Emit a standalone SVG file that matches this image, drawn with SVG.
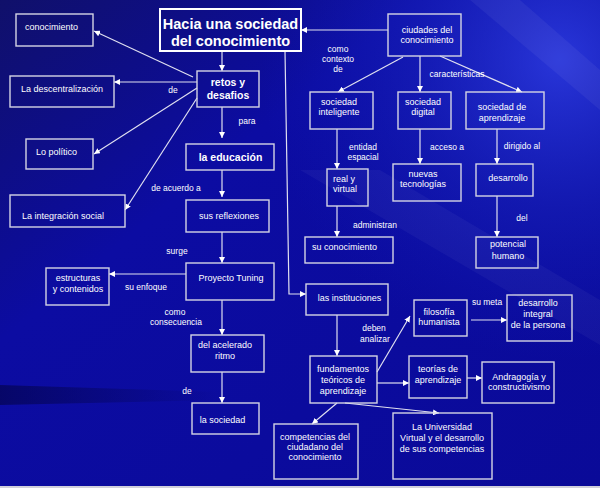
<svg xmlns="http://www.w3.org/2000/svg" width="600" height="488" viewBox="0 0 600 488">
<defs>
<linearGradient id="bg" x1="0" y1="0" x2="1" y2="1">
<stop offset="0" stop-color="#10106a"/>
<stop offset="0.35" stop-color="#0c0ca2"/>
<stop offset="1" stop-color="#0a0a98"/>
</linearGradient>
<radialGradient id="glow" cx="560" cy="60" r="300" gradientUnits="userSpaceOnUse">
<stop offset="0" stop-color="#3040e8" stop-opacity="0.8"/>
<stop offset="0.5" stop-color="#2030d0" stop-opacity="0.35"/>
<stop offset="1" stop-color="#1020c0" stop-opacity="0"/>
</radialGradient>
<linearGradient id="dark" x1="0" y1="0" x2="1" y2="0">
<stop offset="0" stop-color="#040450" stop-opacity="0.7"/>
<stop offset="1" stop-color="#040450" stop-opacity="0"/>
</linearGradient>
<marker id="ah" markerUnits="userSpaceOnUse" markerWidth="6" markerHeight="6" refX="6" refY="3" orient="auto">
<path d="M0,0 L6,3 L0,6 z" fill="#ffffff"/>
</marker>
<style>
.bx{fill:none;stroke:#d4d4e4;stroke-width:1.4}
.tt{stroke:#ffffff;stroke-width:2}
text{font-family:"Liberation Sans",Arial,sans-serif;fill:#ffffff;font-size:9px}
.c{text-anchor:middle}
.b{font-weight:bold;font-size:10.5px}
.h{font-weight:bold;font-size:14.5px}
.l{font-size:8.5px}
.cn{fill:none;stroke:#e0e0f0;stroke-width:1.2;marker-end:url(#ah)}
</style>
</defs>
<rect x="0" y="0" width="600" height="488" fill="url(#bg)"/>
<rect x="0" y="0" width="600" height="488" fill="url(#glow)"/>
<polygon points="470,0 520,0 600,70 600,110" fill="#ffffff" opacity="0.05"/>
<polygon points="300,170 380,170 600,300 600,345" fill="#ffffff" opacity="0.04"/>
<polygon points="0,385 220,392 220,400 0,405" fill="url(#dark)"/>
<rect x="0" y="486" width="600" height="2" fill="#d0d0dc"/>

<g id="connectors">
<path class="cn" d="M388,30 L301,30"/>
<path class="cn" d="M222,51 L222,71"/>
<path class="cn" d="M193,77 L94,31"/>
<path class="cn" d="M197,82 L114,82"/>
<path class="cn" d="M197,88 L94,154"/>
<path class="cn" d="M197,98 L125,210"/>
<path class="cn" d="M222,107 L222,138"/>
<path class="cn" d="M222,170 L222,197"/>
<path class="cn" d="M222,232 L222,263"/>
<path class="cn" d="M186,274 L109,274"/>
<path class="cn" d="M222,300 L222,335"/>
<path class="cn" d="M222,372 L222,403"/>
<path class="cn" d="M403,57 L338,92"/>
<path class="cn" d="M420,56 L420,92"/>
<path class="cn" d="M440,56 L522,92"/>
<path class="cn" d="M337,129 L337,169"/>
<path class="cn" d="M337,206 L337,237"/>
<path class="cn" d="M420,129 L420,164"/>
<path class="cn" d="M497,129 L497,164"/>
<path class="cn" d="M497,196 L497,237"/>
<path class="cn" d="M285,51 L289,294 L306,294"/>
<path class="cn" d="M337,315 L337,356"/>
<path class="cn" d="M377,372 L410,316"/>
<path class="cn" d="M377,383 L409,383"/>
<path class="cn" d="M471,320 L507,320"/>
<path class="cn" d="M467,378 L482,378"/>
<path class="cn" d="M345,403 L439,413"/>
<path class="cn" d="M337,403 L312,424"/>
</g>

<g id="labels">
<text class="l c" x="173" y="93">de</text>
<text class="l c" x="247" y="124">para</text>
<text class="l c" x="176" y="191">de acuerdo a</text>
<text class="l c" x="177" y="254">surge</text>
<text class="l c" x="146" y="290">su enfoque</text>
<text class="l c" x="175" y="315">como</text>
<text class="l c" x="176" y="325">consecuencia</text>
<text class="l c" x="187" y="394">de</text>
<text class="l c" x="338" y="52">como</text>
<text class="l c" x="338" y="62">contexto</text>
<text class="l c" x="338" y="72">de</text>
<text class="l c" x="457" y="77">características</text>
<text class="l c" x="363" y="150">entidad</text>
<text class="l c" x="363" y="160">espacial</text>
<text class="l c" x="447" y="150">acceso a</text>
<text class="l c" x="522" y="149">dirigido al</text>
<text class="l c" x="375" y="228">administran</text>
<text class="l c" x="522" y="221">del</text>
<text class="l c" x="374" y="331">deben</text>
<text class="l c" x="375" y="342">analizar</text>
<text class="l c" x="487" y="305">su meta</text>
</g>

<g id="n-conocimiento"><rect class="bx" x="16" y="14" width="77" height="32"/><text x="25" y="30">conocimiento</text></g>
<g id="n-title"><rect class="bx tt" x="160" y="9" width="141" height="42"/><text class="h c" x="230.5" y="29">Hacia una sociedad</text><text class="h c" x="230.5" y="46">del conocimiento</text></g>
<g id="n-ciudades"><rect class="bx" x="388" y="14" width="73" height="42"/><text class="c" x="427" y="33">ciudades del</text><text class="c" x="427" y="43">conocimiento</text></g>
<g id="n-retos"><rect class="bx" x="197" y="71" width="62" height="36"/><text class="b c" x="228" y="86">retos y</text><text class="b c" x="228" y="99">desafios</text></g>
<g id="n-descentralizacion"><rect class="bx" x="10" y="76" width="104" height="31"/><text class="c" x="62" y="92">La descentralización</text></g>
<g id="n-politico"><rect class="bx" x="26" y="139" width="67" height="30"/><text x="36" y="155">Lo político</text></g>
<g id="n-integracion"><rect class="bx" x="10" y="195" width="115" height="32"/><text class="c" x="63" y="219">La integración social</text></g>
<g id="n-educacion"><rect class="bx" x="186" y="144" width="88" height="26"/><text class="b c" x="230.5" y="161">la educación</text></g>
<g id="n-reflexiones"><rect class="bx" x="186" y="200" width="83" height="32"/><text class="c" x="229" y="219">sus reflexiones</text></g>
<g id="n-tuning"><rect class="bx" x="186" y="263" width="88" height="37"/><text class="c" x="231" y="281">Proyecto Tuning</text></g>
<g id="n-estructuras"><rect class="bx" x="46" y="268" width="63" height="37"/><text class="c" x="78" y="281">estructuras</text><text class="c" x="78" y="292">y contenidos</text></g>
<g id="n-acelerado"><rect class="bx" x="191" y="335" width="73" height="37"/><text class="c" x="225" y="348">del acelerado</text><text class="c" x="225" y="359">ritmo</text></g>
<g id="n-sociedad"><rect class="bx" x="192" y="403" width="67" height="31"/><text class="c" x="222.5" y="423">la sociedad</text></g>
<g id="n-inteligente"><rect class="bx" x="310" y="92" width="63" height="37"/><text class="c" x="339" y="105">sociedad</text><text class="c" x="339" y="115">inteligente</text></g>
<g id="n-digital"><rect class="bx" x="398" y="92" width="53" height="37"/><text class="c" x="423" y="105">sociedad</text><text class="c" x="423" y="115">digital</text></g>
<g id="n-aprendizaje"><rect class="bx" x="466" y="92" width="78" height="37"/><text class="c" x="502" y="110">sociedad de</text><text class="c" x="502" y="120.5">aprendizaje</text></g>
<g id="n-real"><rect class="bx" x="327" y="169" width="41" height="37"/><text x="333" y="182">real y</text><text x="333" y="192">virtual</text></g>
<g id="n-suconocimiento"><rect class="bx" x="305" y="237" width="88" height="26"/><text x="312" y="250">su conocimiento</text></g>
<g id="n-nuevas"><rect class="bx" x="393" y="164" width="68" height="37"/><text class="c" x="423" y="177">nuevas</text><text class="c" x="423" y="187">tecnologías</text></g>
<g id="n-desarrollo"><rect class="bx" x="476" y="164" width="57" height="32"/><text class="c" x="508" y="181">desarrollo</text></g>
<g id="n-potencial"><rect class="bx" x="476" y="237" width="62" height="31"/><text class="c" x="508" y="247">potencial</text><text class="c" x="508" y="259">humano</text></g>
<g id="n-instituciones"><rect class="bx" x="306" y="284" width="82" height="31"/><text class="c" x="349.5" y="301">las instituciones</text></g>
<g id="n-fundamentos"><rect class="bx" x="310" y="356" width="67" height="47"/><text class="c" x="343" y="372">fundamentos</text><text class="c" x="343" y="383">teóricos de</text><text class="c" x="343" y="394">aprendizaje</text></g>
<g id="n-filosofia"><rect class="bx" x="414" y="300" width="53" height="36"/><text class="c" x="439" y="315">filosofía</text><text class="c" x="439" y="325">humanista</text></g>
<g id="n-integral"><rect class="bx" x="507" y="295" width="65" height="46"/><text class="c" x="538" y="306">desarrollo</text><text class="c" x="538" y="317">integral</text><text class="c" x="538" y="328">de la persona</text></g>
<g id="n-teorias"><rect class="bx" x="409" y="356" width="58" height="42"/><text class="c" x="438" y="372">teorías de</text><text class="c" x="438" y="383">aprendizaje</text></g>
<g id="n-andragogia"><rect class="bx" x="482" y="362" width="72" height="41"/><text class="c" x="519" y="380">Andragogía y</text><text class="c" x="519" y="390">constructivismo</text></g>
<g id="n-universidad"><rect class="bx" x="393" y="413" width="99" height="66"/><text class="c" x="442" y="430">La Universidad</text><text class="c" x="442" y="441">Virtual y el desarrollo</text><text class="c" x="442" y="452">de sus competencias</text></g>
<g id="n-competencias"><rect class="bx" x="274" y="424" width="84" height="55"/><text class="c" x="315" y="440">competencias del</text><text class="c" x="315" y="450">ciudadano del</text><text class="c" x="315" y="460">conocimiento</text></g>
</svg>
